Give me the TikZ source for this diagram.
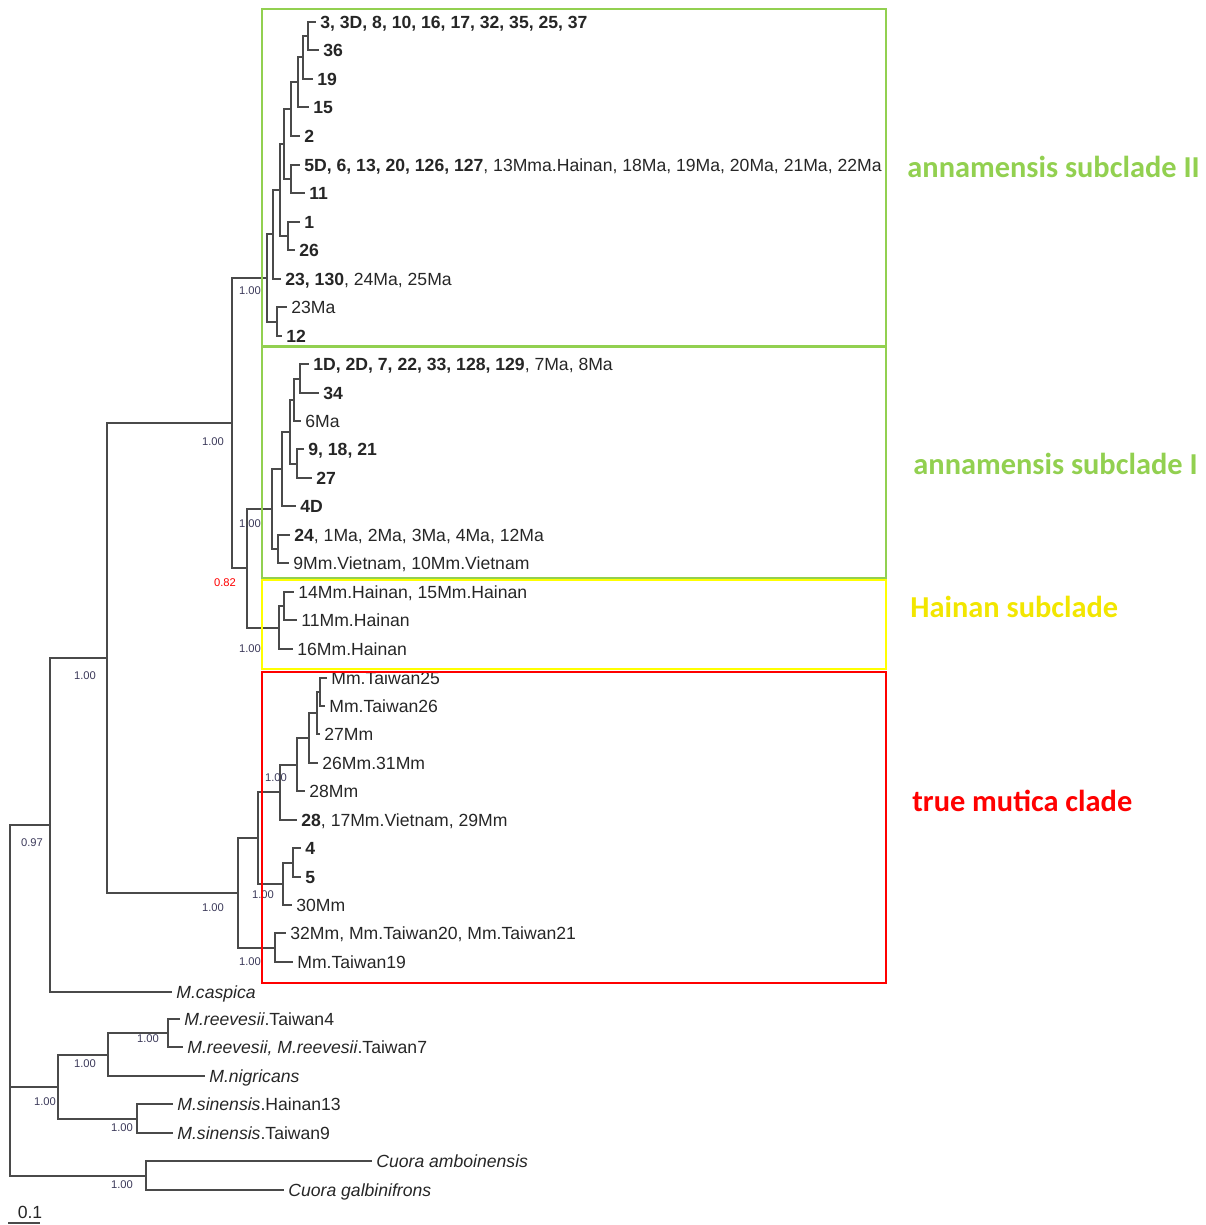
\documentclass[tikz,border=0pt]{standalone}
\usepackage{fontspec}
\setmainfont{Liberation Sans}
\newfontfamily\cladefont{Carlito}
\usepackage{xcolor}
\usepackage{tikz}
\usetikzlibrary{positioning}
\definecolor{subgreen}{HTML}{92D050}
\definecolor{hainanyellow}{HTML}{FFFF00}
\definecolor{hainantext}{HTML}{F2E600}
\definecolor{muticared}{HTML}{FF0000}
\definecolor{branchgray}{HTML}{4A4A4A}
\definecolor{suppcol}{HTML}{3C3A5A}
\tikzstyle{branch} = [draw=branchgray, line width=1pt]
\tikzstyle{tip} = [anchor=west, inner xsep=2pt, inner ysep=0pt, text height=6.4pt, text depth=0pt, text=black!85, font=\fontsize{8.8}{10}\selectfont]
\tikzstyle{support} = [inner sep=0pt, text=suppcol, font=\fontsize{5.6}{6}\selectfont]
\tikzstyle{cladebox} = [line width=1.4pt]
\tikzstyle{cladename} = [anchor=west, inner sep=0pt, font=\cladefont\bfseries\fontsize{15.2}{17}\selectfont]

\begin{document}
\begin{tikzpicture}[x=0.5pt, y=-0.5pt]
\useasboundingbox (0,0) rectangle (1205,1225);

% Tips: annamensis subclade II
\node (t1) [tip] at (316,22) {\textbf{3, 3D, 8, 10, 16, 17, 32, 35, 25, 37}};
\node (t2) [tip] at (319,50) {\textbf{36}};
\node (t3) [tip] at (313,79) {\textbf{19}};
\node (t4) [tip] at (309,107) {\textbf{15}};
\node (t5) [tip] at (300,136) {\textbf{2}};
\node (t6) [tip] at (300,165) {\textbf{5D, 6, 13, 20, 126, 127}, 13Mma.Hainan, 18Ma, 19Ma, 20Ma, 21Ma, 22Ma};
\node (t7) [tip] at (305,193) {\textbf{11}};
\node (t8) [tip] at (300,222) {\textbf{1}};
\node (t9) [tip] at (295,250) {\textbf{26}};
\node (t10) [tip] at (281,279) {\textbf{23, 130}, 24Ma, 25Ma};
\node (t11) [tip] at (287,307) {23Ma};
\node (t12) [tip] at (282,336) {\textbf{12}};

% Tips: annamensis subclade I
\node (u1) [tip] at (309,364) {\textbf{1D, 2D, 7, 22, 33, 128, 129}, 7Ma, 8Ma};
\node (u2) [tip] at (319,393) {\textbf{34}};
\node (u3) [tip] at (301,421) {6Ma};
\node (u4) [tip] at (304,449) {\textbf{9, 18, 21}};
\node (u5) [tip] at (312,478) {\textbf{27}};
\node (u6) [tip] at (296,506) {\textbf{4D}};
\node (u7) [tip] at (290,535) {\textbf{24}, 1Ma, 2Ma, 3Ma, 4Ma, 12Ma};
\node (u8) [tip] at (289,563) {9Mm.Vietnam, 10Mm.Vietnam};

% Tips: Hainan subclade
\node (h1) [tip] at (294,592) {14Mm.Hainan, 15Mm.Hainan};
\node (h2) [tip] at (297,620) {11Mm.Hainan};
\node (h3) [tip] at (293,649) {16Mm.Hainan};

% Tips: true mutica clade
\node (r1) [tip] at (327,678) {Mm.Taiwan25};
\node (r2) [tip] at (325,706) {Mm.Taiwan26};
\node (r3) [tip] at (320,734) {27Mm};
\node (r4) [tip] at (318,763) {26Mm.31Mm};
\node (r5) [tip] at (305,791) {28Mm};
\node (r6) [tip] at (297,820) {\textbf{28}, 17Mm.Vietnam, 29Mm};
\node (r7) [tip] at (301,848) {\textbf{4}};
\node (r8) [tip] at (301,877) {\textbf{5}};
\node (r9) [tip] at (292,905) {30Mm};
\node (r10) [tip] at (286,933) {32Mm, Mm.Taiwan20, Mm.Taiwan21};
\node (r11) [tip] at (293,962) {Mm.Taiwan19};

% Tips: outgroups
\node (casp) [tip] at (172,992) {\textit{M.caspica}};
\node (o1) [tip] at (180,1019) {\textit{M.reevesii}.Taiwan4};
\node (o2) [tip] at (183,1047) {\textit{M.reevesii, M.reevesii}.Taiwan7};
\node (o3) [tip] at (205,1076) {\textit{M.nigricans}};
\node (o4) [tip] at (173,1104) {\textit{M.sinensis}.Hainan13};
\node (o5) [tip] at (173,1133) {\textit{M.sinensis}.Taiwan9};
\node (o6) [tip] at (372,1161) {\textit{Cuora amboinensis}};
\node (o7) [tip] at (284,1190) {\textit{Cuora galbinifrons}};

% Internal nodes
\coordinate (n12) at (308,36);
\coordinate (n123) at (303,57.5);
\coordinate (n1234) at (298,82);
\coordinate (n12345) at (291,109);
\coordinate (n67) at (291,179);
\coordinate (n17) at (284,144);
\coordinate (n89) at (288,236);
\coordinate (n19) at (280,190);
\coordinate (n110) at (273,234.5);
\coordinate (n1112) at (277,321.5);
\coordinate (nII) at (267,278);
\coordinate (m12) at (300,378.5);
\coordinate (m123) at (294,400);
\coordinate (m45) at (297,463.5);
\coordinate (m15) at (290,432);
\coordinate (m16) at (282,469);
\coordinate (m78) at (278,549);
\coordinate (nI) at (272,509);
\coordinate (k12) at (284,606);
\coordinate (nH) at (279,627.5);
\coordinate (nE) at (247,568);
\coordinate (nD) at (232,423);
\coordinate (s12) at (320,692);
\coordinate (s13) at (317,713);
\coordinate (s14) at (309,738);
\coordinate (s15) at (297,764.5);
\coordinate (s16) at (280,792);
\coordinate (s78) at (293,862.5);
\coordinate (s79) at (283,884);
\coordinate (s19) at (258,838);
\coordinate (s1011) at (275,947.5);
\coordinate (nT) at (238,893);
\coordinate (nC) at (107,658);
\coordinate (nA) at (50,825);
\coordinate (p12) at (168,1033);
\coordinate (p13) at (108,1054.5);
\coordinate (p45) at (137,1118.5);
\coordinate (nB) at (58,1086.5);
\coordinate (p67) at (146,1175.5);
\coordinate (root) at (10,1000);

% Branches
\draw [branch] (n12) |- (t1.west) (n12) |- (t2.west);
\draw [branch] (n123) |- (n12) (n123) |- (t3.west);
\draw [branch] (n1234) |- (n123) (n1234) |- (t4.west);
\draw [branch] (n12345) |- (n1234) (n12345) |- (t5.west);
\draw [branch] (n67) |- (t6.west) (n67) |- (t7.west);
\draw [branch] (n17) |- (n12345) (n17) |- (n67);
\draw [branch] (n89) |- (t8.west) (n89) |- (t9.west);
\draw [branch] (n19) |- (n17) (n19) |- (n89);
\draw [branch] (n110) |- (n19) (n110) |- (t10.west);
\draw [branch] (n1112) |- (t11.west) (n1112) |- (t12.west);
\draw [branch] (nII) |- (n110) (nII) |- (n1112);
\draw [branch] (m12) |- (u1.west) (m12) |- (u2.west);
\draw [branch] (m123) |- (m12) (m123) |- (u3.west);
\draw [branch] (m45) |- (u4.west) (m45) |- (u5.west);
\draw [branch] (m15) |- (m123) (m15) |- (m45);
\draw [branch] (m16) |- (m15) (m16) |- (u6.west);
\draw [branch] (m78) |- (u7.west) (m78) |- (u8.west);
\draw [branch] (nI) |- (m16) (nI) |- (m78);
\draw [branch] (k12) |- (h1.west) (k12) |- (h2.west);
\draw [branch] (nH) |- (k12) (nH) |- (h3.west);
\draw [branch] (nE) |- (nI) (nE) |- (nH);
\draw [branch] (nD) |- (nII) (nD) |- (nE);
\draw [branch] (s12) |- (r1.west) (s12) |- (r2.west);
\draw [branch] (s13) |- (s12) (s13) |- (r3.west);
\draw [branch] (s14) |- (s13) (s14) |- (r4.west);
\draw [branch] (s15) |- (s14) (s15) |- (r5.west);
\draw [branch] (s16) |- (s15) (s16) |- (r6.west);
\draw [branch] (s78) |- (r7.west) (s78) |- (r8.west);
\draw [branch] (s79) |- (s78) (s79) |- (r9.west);
\draw [branch] (s19) |- (s16) (s19) |- (s79);
\draw [branch] (s1011) |- (r10.west) (s1011) |- (r11.west);
\draw [branch] (nT) |- (s19) (nT) |- (s1011);
\draw [branch] (nC) |- (nD) (nC) |- (nT);
\draw [branch] (nA) |- (nC) (nA) |- (casp.west);
\draw [branch] (p12) |- (o1.west) (p12) |- (o2.west);
\draw [branch] (p13) |- (p12) (p13) |- (o3.west);
\draw [branch] (p45) |- (o4.west) (p45) |- (o5.west);
\draw [branch] (nB) |- (p13) (nB) |- (p45);
\draw [branch] (p67) |- (o6.west) (p67) |- (o7.west);
\draw [branch] (root) |- (nA) (root) |- (nB) (root) |- (p67);

% Posterior support
\node (sII) [support] at (250,291) {1.00};
\node (sD) [support] at (213,442) {1.00};
\node (sI) [support] at (250,524) {1.00};
\node (sE) [support, text=red] at (225,583) {0.82};
\node (sH) [support] at (250,649) {1.00};
\node (sC) [support] at (85,676) {1.00};
\node (s16l) [support] at (276,778) {1.00};
\node (s79l) [support] at (263,895) {1.00};
\node (sT) [support] at (213,908) {1.00};
\node (s1011l) [support] at (250,962) {1.00};
\node (sA) [support] at (32,843) {0.97};
\node (p12l) [support] at (148,1039) {1.00};
\node (p13l) [support] at (85,1064) {1.00};
\node (sB) [support] at (45,1102) {1.00};
\node (p45l) [support] at (122,1128) {1.00};
\node (p67l) [support] at (122,1185) {1.00};

% Scale bar
\node (scale) [tip, anchor=center, text height=6pt] at (30,1212) {0.1};
\coordinate (barL) at (8,1223);
\coordinate (barR) at (40,1223);
\draw [branch] (barL) -- (barR);

% Clade boxes
\draw [cladebox, draw=subgreen] (262,9) rectangle (886,346);
\draw [cladebox, draw=subgreen] (262,347) rectangle (886,578);
\draw [cladebox, draw=hainanyellow] (262,580) rectangle (886,669);
\draw [cladebox, draw=muticared] (262,672) rectangle (886,983);

% Clade names
\node (cII) [cladename, text=subgreen] at (907,167) {annamensis subclade II};
\node (cI) [cladename, text=subgreen] at (913,464) {annamensis subclade I};
\node (cH) [cladename, text=hainantext] at (910,607) {Hainan subclade};
\node (cT) [cladename, text=muticared] at (912,801) {true mutica clade};
\end{tikzpicture}
\end{document}
